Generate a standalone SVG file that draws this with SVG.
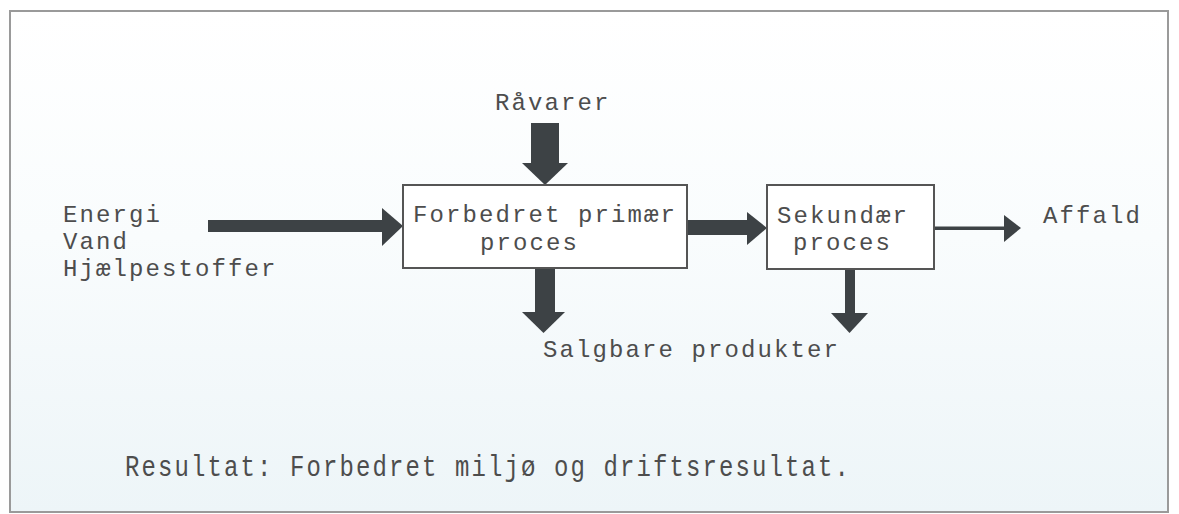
<svg xmlns="http://www.w3.org/2000/svg" width="1179" height="514" viewBox="0 0 1179 514">
<defs>
<linearGradient id="bg" x1="0" y1="0" x2="0" y2="1">
<stop offset="0" stop-color="#ffffff"/>
<stop offset="0.45" stop-color="#f9fcfd"/>
<stop offset="1" stop-color="#edf5f8"/>
</linearGradient>
</defs>
<style>
.t{font-family:"Liberation Mono","Courier New",monospace;font-size:24px;letter-spacing:2.1px;fill:#4d4d4d}
.box{fill:#ffffff;stroke:#555;stroke-width:2}
.arr{fill:#3d4245;stroke:none}
</style>
<rect x="0" y="0" width="1179" height="514" fill="#ffffff"/>
<rect x="10" y="11" width="1158" height="501" fill="url(#bg)" stroke="#9a9a9a" stroke-width="2"/>
<g id="connectors">
<rect class="arr" x="208" y="220" width="176" height="12"/>
<polygon class="arr" points="382,208 403,226 382,246"/>
<rect class="arr" x="687" y="220" width="62" height="15"/>
<polygon class="arr" points="747,212 767,228 747,245"/>
<rect class="arr" x="934" y="226.5" width="72" height="3.5"/>
<polygon class="arr" points="1004,215 1021,228 1004,242"/>
<rect class="arr" x="531" y="123" width="28" height="41"/>
<polygon class="arr" points="522,163 568,163 545,185"/>
<rect class="arr" x="535" y="268" width="20" height="45"/>
<polygon class="arr" points="522,312 565,312 543.5,333"/>
<rect class="arr" x="845" y="269" width="10" height="45"/>
<polygon class="arr" points="831,313 868,313 849.5,333"/>
</g>
<g id="raavarer"><text class="t" x="495" y="110">Råvarer</text></g>
<g id="inputs">
<text class="t" x="63" y="222">Energi</text>
<text class="t" x="63" y="249">Vand</text>
<text class="t" x="63" y="276">Hjælpestoffer</text>
</g>
<g id="primary">
<rect class="box" x="403" y="185" width="284" height="83"/>
<text class="t" x="413" y="222">Forbedret primær</text>
<text class="t" x="480" y="250">proces</text>
</g>
<g id="secondary">
<rect class="box" x="767" y="185" width="167" height="84"/>
<text class="t" x="777" y="223">Sekundær</text>
<text class="t" x="793" y="250">proces</text>
</g>
<g id="affald"><text class="t" x="1043" y="223">Affald</text></g>
<g id="products"><text class="t" x="543" y="357">Salgbare produkter</text></g>
<g id="result"><text class="t" x="125" y="476" transform="translate(0,476) scale(1,1.2) translate(0,-476)">Resultat: Forbedret miljø og driftsresultat.</text></g>
</svg>
